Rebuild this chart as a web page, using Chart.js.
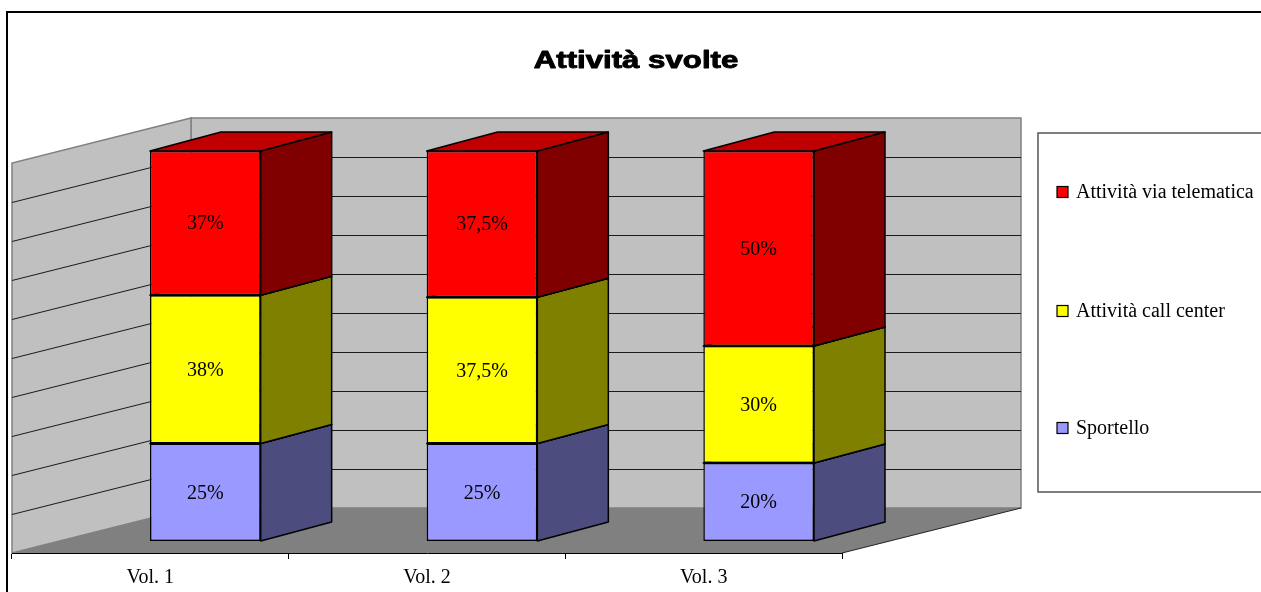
<!DOCTYPE html>
<html>
<head>
<meta charset="utf-8">
<script src="https://cdn.jsdelivr.net/npm/chart.js@4.4.1/dist/chart.umd.min.js"></script>
<style>
  html, body { margin: 0; padding: 0; background: #fff; }
  canvas { display: block; }
</style>
</head>
<body>
<canvas id="activityChart" width="1261" height="592"></canvas>
<script>
// Share of activities per volume (percent)
const categories = ['Vol. 1', 'Vol. 2', 'Vol. 3'];
const sportello = [25, 25, 20];
const callCenter = [38, 37.5, 30];
const telematica = [37, 37.5, 50];
const seriesNames = ['Sportello', 'Attività call center', 'Attività via telematica'];

// Fake 3D projection: bars sit behind the floor front edge, walls further back
const SHIFT = { x: 55, y: -12 };
const BAR_DEPTH = { x: 71, y: -19 };
const WALL_DEPTH = { x: 179, y: -45 };

const SERIF = "'Liberation Serif', 'Times New Roman', serif";

function poly(ctx, pts, fill, stroke, lw) {
  ctx.beginPath();
  ctx.moveTo(pts[0][0], pts[0][1]);
  for (let i = 1; i < pts.length; i++) ctx.lineTo(pts[i][0], pts[i][1]);
  ctx.closePath();
  if (fill) { ctx.fillStyle = fill; ctx.fill(); }
  if (stroke) { ctx.strokeStyle = stroke; ctx.lineWidth = lw || 1; ctx.stroke(); }
}

function pctLabel(v) {
  return String(v).replace('.', ',') + '%';
}

const backdrop = {
  id: 'backdrop',
  beforeDraw(chart) {
    const ctx = chart.ctx;
    const { left, right, top, bottom } = chart.chartArea;
    const wx = WALL_DEPTH.x, wy = WALL_DEPTH.y;
    ctx.save();
    ctx.fillStyle = '#fff';
    ctx.fillRect(0, 0, chart.width, chart.height);

    // outer frame
    ctx.strokeStyle = '#000';
    ctx.lineWidth = 2;
    ctx.beginPath();
    ctx.moveTo(7, chart.height);
    ctx.lineTo(7, 12);
    ctx.lineTo(chart.width, 12);
    ctx.stroke();

    // title, stretched horizontally and a bit heavier
    ctx.save();
    ctx.translate(636, 68);
    ctx.scale(1.3, 1);
    ctx.font = "bold 24px 'Liberation Sans', Arial, sans-serif";
    ctx.fillStyle = '#000';
    ctx.strokeStyle = '#000';
    ctx.lineWidth = 0.9;
    ctx.lineJoin = 'round';
    ctx.textAlign = 'center';
    ctx.textBaseline = 'alphabetic';
    ctx.fillText('Attività svolte', 0, 0);
    ctx.strokeText('Attività svolte', 0, 0);
    ctx.restore();

    // back wall and side wall
    poly(ctx, [[left + wx, bottom + wy], [right + wx, bottom + wy], [right + wx, top + wy], [left + wx, top + wy]], '#c0c0c0', '#808080', 1.5);
    poly(ctx, [[left, bottom], [left + wx, bottom + wy], [left + wx, top + wy], [left, top]], '#c0c0c0', '#808080', 1.5);

    // floor
    poly(ctx, [[left, bottom], [right, bottom], [right + wx, bottom + wy], [left + wx, bottom + wy]], '#808080', null);
    ctx.strokeStyle = '#222';
    ctx.lineWidth = 1;
    ctx.beginPath();
    ctx.moveTo(right, bottom);
    ctx.lineTo(right + wx, bottom + wy);
    ctx.stroke();

    // gridlines on both walls
    const yScale = chart.scales.y;
    ctx.strokeStyle = '#1a1a1a';
    ctx.lineWidth = 1;
    yScale.ticks.forEach(t => {
      if (t.value <= yScale.min || t.value >= yScale.max) return;
      const y = Math.round(yScale.getPixelForValue(t.value)) + 0.5;
      ctx.beginPath();
      ctx.moveTo(left, y);
      ctx.lineTo(left + wx, y + wy);
      ctx.lineTo(right + wx, y + wy);
      ctx.stroke();
    });

    // legend
    const legendX = 1038, legendTop = 133, legendBottom = 492;
    ctx.strokeStyle = '#555';
    ctx.lineWidth = 1.5;
    ctx.beginPath();
    ctx.moveTo(chart.width + 2, legendTop);
    ctx.lineTo(legendX, legendTop);
    ctx.lineTo(legendX, legendBottom);
    ctx.lineTo(chart.width + 2, legendBottom);
    ctx.stroke();
    const rowY = [192, 311, 428];
    const order = chart.data.datasets.slice().reverse();
    ctx.font = '20px ' + SERIF;
    ctx.textBaseline = 'middle';
    ctx.textAlign = 'left';
    order.forEach((ds, i) => {
      ctx.fillStyle = ds.backgroundColor;
      ctx.fillRect(1057, rowY[i] - 5.5, 11, 11);
      ctx.strokeStyle = '#000';
      ctx.lineWidth = 1.2;
      ctx.strokeRect(1057, rowY[i] - 5.5, 11, 11);
      ctx.fillStyle = '#000';
      ctx.fillText(ds.label, 1076, rowY[i] + 1);
    });
    ctx.restore();
  },

  beforeDatasetsDraw(chart) {
    const ctx = chart.ctx;
    const dx = BAR_DEPTH.x, dy = BAR_DEPTH.y;
    ctx.save();
    ctx.translate(SHIFT.x, SHIFT.y);
    ctx.lineJoin = 'round';
    categories.forEach((c, i) => {
      chart.data.datasets.forEach((ds, d) => {
        const bar = chart.getDatasetMeta(d).data[i];
        const l = bar.x - bar.width / 2, r = bar.x + bar.width / 2;
        const t = bar.y, b = bar.base;
        poly(ctx, [[r, b], [r + dx, b + dy], [r + dx, t + dy], [r, t]], ds.sideColor, '#000', 1.5);
        poly(ctx, [[l, t], [r, t], [r + dx, t + dy], [l + dx, t + dy]], ds.topColor, '#000', 1.5);
      });
    });
    // stays translated while the front faces are drawn
  },

  afterDatasetsDraw(chart) {
    const ctx = chart.ctx;
    ctx.font = '20px ' + SERIF;
    ctx.fillStyle = '#000';
    ctx.textAlign = 'center';
    ctx.textBaseline = 'middle';
    chart.data.datasets.forEach((ds, d) => {
      chart.getDatasetMeta(d).data.forEach((bar, i) => {
        ctx.fillText(pctLabel(ds.data[i]), bar.x, (bar.y + bar.base) / 2 + 1);
      });
    });
    ctx.restore();
  }
};

new Chart(document.getElementById('activityChart'), {
  type: 'bar',
  data: {
    labels: categories,
    datasets: [
      { label: seriesNames[0], data: sportello, backgroundColor: '#9999ff', sideColor: '#4c4c7f', topColor: '#7373bf' },
      { label: seriesNames[1], data: callCenter, backgroundColor: '#ffff00', sideColor: '#808000', topColor: '#bfbf00' },
      { label: seriesNames[2], data: telematica, backgroundColor: '#ff0000', sideColor: '#800000', topColor: '#c00000' }
    ].map(ds => Object.assign(ds, {
      borderColor: '#000',
      borderWidth: 1.5,
      borderSkipped: false,
      categoryPercentage: 0.4,
      barPercentage: 1,
      clip: false
    }))
  },
  options: {
    responsive: false,
    animation: false,
    events: [],
    layout: { padding: { left: 12, right: 419, top: 163, bottom: 0 } },
    plugins: {
      legend: { display: false },
      title: { display: false },
      tooltip: { enabled: false }
    },
    scales: {
      x: {
        stacked: true,
        afterFit(scale) { scale.height = 39; },
        grid: { offset: true, drawOnChartArea: false, drawTicks: true, tickLength: 6, color: '#000' },
        border: { display: true, color: '#000', width: 1 },
        ticks: { color: '#000', font: { family: SERIF, size: 20 }, padding: 7, maxRotation: 0 }
      },
      y: {
        stacked: true,
        display: false,
        min: 0,
        max: 100,
        ticks: { stepSize: 10 }
      }
    }
  },
  plugins: [backdrop]
});
</script>
</body>
</html>
